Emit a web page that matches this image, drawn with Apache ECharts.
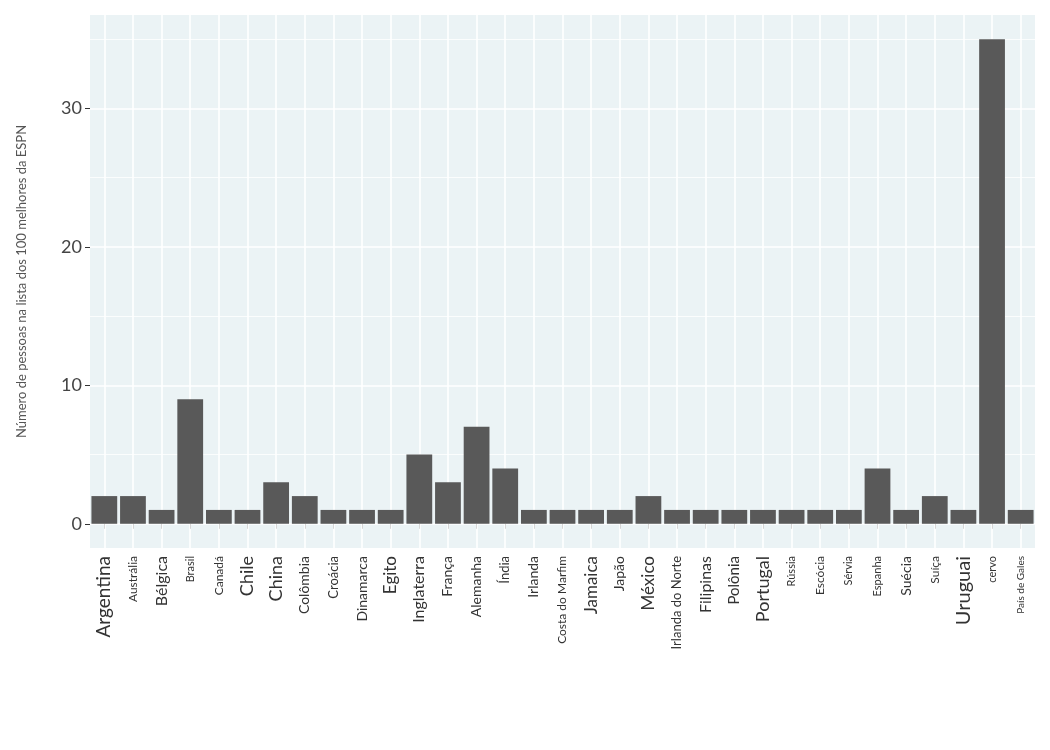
<!DOCTYPE html><html><head><meta charset="utf-8"><script src="https://cdn.jsdelivr.net/npm/echarts@6/dist/echarts.min.js"></script></head><body style="margin:0"><div id="c" style="width:1050px;height:750px"></div><script>
const categories=["Argentina","Austrália","Bélgica","Brasil","Canadá","Chile","China","Colômbia","Croácia","Dinamarca","Egito","Inglaterra","França","Alemanha","Índia","Irlanda","Costa do Marfim","Jamaica","Japão","México","Irlanda do Norte","Filipinas","Polônia","Portugal","Rússia","Escócia","Sérvia","Espanha","Suécia","Suíça","Uruguai","cervo","País de Gales"];
const values=[2,2,1,9,1,1,3,2,1,1,1,5,3,7,4,1,1,1,1,2,1,1,1,1,1,1,1,4,1,2,1,35,1];
const labelSizes=[19,12,16,11,12,18,18,14,13,14,17,16,14,14,13,14,12,17,14,17,13,16,15,18,11,12,11,11,14,12,20,11,10];
const yTicks=[0,10,20,30];
const yMinor=[5,15,25,35];
const rich={};labelSizes.forEach((s,i)=>rich['s'+i]={fontSize:s,color:'#333',fontFamily:'Lato'});
const vLines=categories.map(c=>({xAxis:c,lineStyle:{color:'#fff',width:1.6,type:'solid'}}));
const hMinor=yMinor.map(v=>({yAxis:v,lineStyle:{color:'#fff',width:0.8,type:'solid'}}));
const chart=echarts.init(document.getElementById('c'));
chart.setOption({animation:false,
grid:{left:90,right:15,top:15,bottom:202,backgroundColor:'#EBF3F5',show:true,borderWidth:0},
xAxis:{type:'category',data:categories,axisLine:{show:false},axisTick:{show:true,length:5,lineStyle:{color:'#333'},alignWithLabel:true},
 axisLabel:{rotate:90,margin:8,interval:0,fontFamily:'Lato',formatter:(v,i)=>'{s'+i+'|'+v+'}',rich:rich}},
yAxis:{type:'value',min:-1.75,max:36.75,axisLine:{show:false},
 axisTick:{show:true,length:5,lineStyle:{color:'#333'},customValues:yTicks},
 axisLabel:{fontSize:18,color:'#444',fontFamily:'Lato',customValues:yTicks},
 splitLine:{show:true,lineStyle:{color:'#fff',width:1.6}},
 name:'Número de pessoas na lista dos 100 melhores da ESPN',nameLocation:'middle',nameGap:62,nameTextStyle:{fontSize:13,color:'#555',fontFamily:'Lato'}},
series:[{type:'bar',data:values,barCategoryGap:'10%',itemStyle:{color:'#595959'},z:3,
 markLine:{silent:true,symbol:'none',label:{show:false},z:1,data:vLines.concat(hMinor)}}]});
</script></body></html>
